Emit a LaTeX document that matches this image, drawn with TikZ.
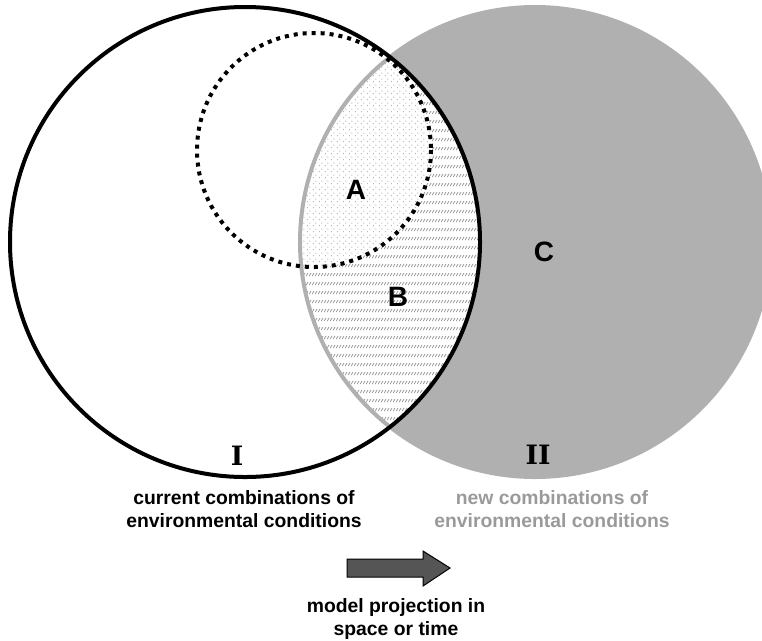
\documentclass[tikz,border=0pt]{standalone}
\usepackage{fontspec}
\setmainfont{Liberation Sans}
\newfontfamily\romfont{DejaVu Serif}
\usetikzlibrary{patterns.meta}

\definecolor{regiongray}{HTML}{B0B0B0}
\definecolor{labelgray}{HTML}{9A9A9A}
\definecolor{arrowgray}{HTML}{555555}

\tikzdeclarepattern{
  name=rowhatch,
  type=uncolored,
  bounding box={(0pt,0pt) and (2.25pt,6.9pt)},
  tile size={(2.25pt,6.9pt)},
  code={\draw[line width=0.65pt] (0.2pt,0.8pt) -- (2pt,3.2pt);}
}
\tikzdeclarepattern{
  name=finedots,
  type=uncolored,
  bounding box={(0pt,0pt) and (4.5pt,4.5pt)},
  tile size={(4.5pt,4.5pt)},
  code={\fill (1.125pt,1.125pt) circle (0.45pt); \fill (3.375pt,3.375pt) circle (0.45pt);}
}

\begin{document}
\begin{tikzpicture}[x=0.75pt, y=-0.75pt,
    caption/.style={font=\bfseries\fontsize{14.5}{16.8}\selectfont, align=center},
    region/.style={font=\bfseries\fontsize{21}{24}\selectfont},
    numeral/.style={font=\romfont\bfseries\fontsize{20}{22}\selectfont},
    subset/.style={line width=3pt, dash pattern=on 3pt off 3.75pt}]
    \useasboundingbox (0,0) rectangle (762,640);
    \coordinate (current) at (245,242);
    \coordinate (new) at (535,242);
    \coordinate (fitted) at (314,150);

    \fill [regiongray] (new) circle (235);
    \begin{scope}
        \clip (current) circle (235);
        \clip (new) circle (235);
        \fill [white] (new) circle (235);
        \fill [pattern=rowhatch, pattern color=gray!85] (new) circle (235);
        \clip (fitted) circle (117);
        \fill [white] (fitted) circle (117);
        \fill [pattern=finedots, pattern color=gray!75] (fitted) circle (117);
    \end{scope}
    \draw [regiongray, line width=3pt] (new) circle (235);
    \draw [subset] (fitted) circle (117);
    \draw [line width=3pt] (current) circle (235);

    \foreach \lbl/\x/\y in {A/356/190, B/398/297, C/544/252}
        \node [region] (\lbl) at (\x,\y) {\lbl};
    \node [numeral] (one) at (237,456) {I};
    \node [numeral] (two) at (538,455) {II};

    \node [caption] (currentlbl) at (244,509) {current combinations of\\environmental conditions};
    \node [caption, text=labelgray] (newlbl) at (552,509) {new combinations of\\environmental conditions};

    \fill [arrowgray, draw=black, line width=0.75pt] (347,559) -- (423,559) -- (423,551) -- (450,568)
        -- (423,586) -- (423,577) -- (347,577) -- cycle;
    \node [caption] (projlbl) at (396,619) {model projection in\\space or time};
\end{tikzpicture}
\end{document}
